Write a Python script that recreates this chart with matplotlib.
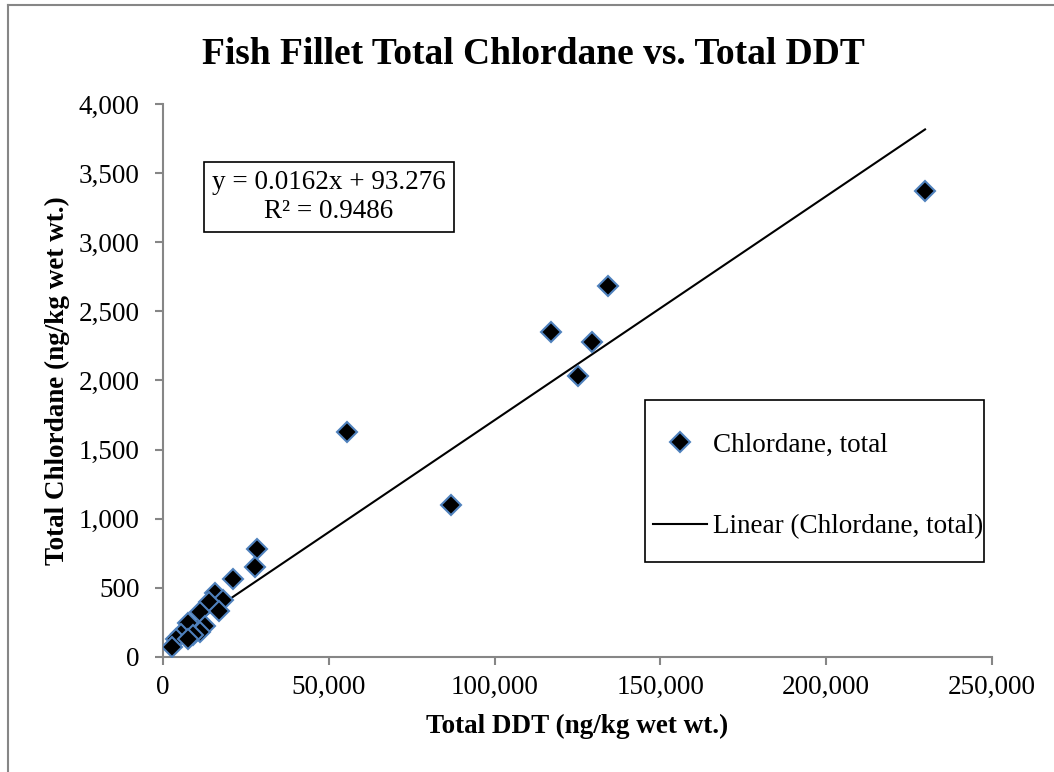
import numpy as np
import matplotlib.pyplot as plt
from matplotlib.lines import Line2D
from matplotlib.patches import Rectangle
from matplotlib.ticker import FuncFormatter

# ── Data ──────────────────────────────────────────────────────────────────────
ddt = [229800, 134200, 117000, 129400, 125200, 55500, 86850,
       28350, 27800, 21200, 15770, 18180, 13780, 16980, 11160,
       7540, 12670, 11160, 9140, 5340, 3920, 7540, 2710]
chlordane = [3370, 2683, 2351, 2278, 2033, 1627, 1099,
             781, 653, 562, 461, 412, 398, 335, 322,
             249, 224, 181, 157, 166, 128, 128, 70]
slope, intercept, r2 = 0.0162, 93.276, 0.9486

SERIF = ['Liberation Serif', 'DejaVu Serif']
GRAY = '#868686'

fig = plt.figure(figsize=(10.54, 7.72), dpi=100)
ax = fig.add_axes([0.1547, 0.149, 0.7865, 0.7163])

ax.plot(ddt, chlordane, 'D', color='black', markersize=10.5,
        markeredgecolor='#4F81BD', markeredgewidth=1.5,
        label='Chlordane, total', zorder=3)
xs = np.array([min(ddt), max(ddt)])
ax.plot(xs, slope * xs + intercept, color='black', linewidth=1.5,
        label='Linear (Chlordane, total)', zorder=2)

ax.set_xlim(0, 250000)
ax.set_ylim(0, 4000)
ax.set_xticks(np.arange(0, 250001, 50000))
ax.set_yticks(np.arange(0, 4001, 500))
fmt = FuncFormatter(lambda v, p: f'{int(v):,}')
ax.xaxis.set_major_formatter(fmt)
ax.yaxis.set_major_formatter(fmt)

for s in ['top', 'right']:
    ax.spines[s].set_visible(False)
for s in ['left', 'bottom']:
    ax.spines[s].set_color(GRAY)
    ax.spines[s].set_linewidth(1.5)
ax.tick_params(direction='out', length=6, width=1.5, color=GRAY,
               labelsize=19.5)
ax.tick_params(axis='y', pad=11)
ax.tick_params(axis='x', pad=7)
for tl in ax.get_xticklabels() + ax.get_yticklabels():
    tl.set_fontfamily(SERIF)

ax.set_xlabel('Total DDT (ng/kg wet wt.)', fontsize=19.5, fontweight='bold',
              family=SERIF, labelpad=10)
ax.set_ylabel('Total Chlordane (ng/kg wet wt.)', fontsize=19.5,
              fontweight='bold', family=SERIF, labelpad=6)
fig.text(0.506, 0.929, 'Fish Fillet Total Chlordane vs. Total DDT',
         ha='center', va='center', fontsize=27, fontweight='bold',
         family=SERIF)

# equation box
ax.text(0.2, 0.832, f'y = {slope}x + {intercept}\nR² = {r2}',
        transform=ax.transAxes, ha='center', va='center', fontsize=19.5,
        family=SERIF, linespacing=1.2,
        bbox=dict(boxstyle='square,pad=0.3', fc='white', ec='black', lw=1.2))

# legend: entries placed inside a separately drawn frame
ax.add_patch(Rectangle((0.5814, 0.1718), 0.409, 0.2929, transform=ax.transAxes,
                       fill=False, ec='black', lw=1.2, clip_on=False))
ax.legend(loc='upper left', bbox_to_anchor=(0.591, 0.406),
          prop={'family': SERIF, 'size': 19.5}, frameon=False,
          labelspacing=2.1, borderpad=0, handlelength=2.0,
          handletextpad=0.2, borderaxespad=0)

# outer chart border (left + top visible in reference)
fig.add_artist(Line2D([0.008, 0.008], [0.0, 0.993], transform=fig.transFigure,
                      color=GRAY, linewidth=1.5))
fig.add_artist(Line2D([0.008, 1.0], [0.993, 0.993], transform=fig.transFigure,
                      color=GRAY, linewidth=1.5))

fig.savefig('out.png', dpi=100)
